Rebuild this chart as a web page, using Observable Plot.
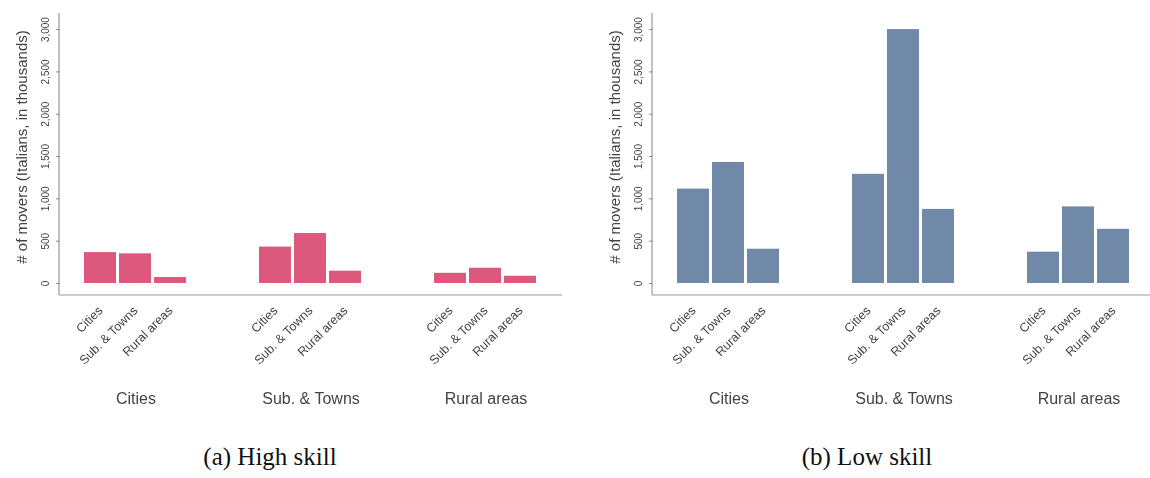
<!DOCTYPE html>
<html>
<head>
<meta charset="utf-8">
<script src="https://cdn.jsdelivr.net/npm/d3@7"></script>
<script src="https://cdn.jsdelivr.net/npm/@observablehq/plot@0.6"></script>
<style>
  html, body { margin: 0; padding: 0; background: #fff; }
  #page { position: relative; width: 1150px; height: 478px; overflow: hidden; background: #fff; }
  .panel { position: absolute; top: 0; width: 580px; height: 420px; }
  .panel svg { max-width: none !important; filter: blur(0.5px); }
  .caption {
    position: absolute; top: 444px; width: 300px; margin-left: -150px;
    text-align: center; font-family: "Liberation Serif", "DejaVu Serif", serif;
    font-size: 25px; line-height: 1; color: #111;
  }
</style>
</head>
<body>
<div id="page">
  <div id="left" class="panel" style="left:0px"></div>
  <div id="right" class="panel" style="left:593px"></div>
  <div class="caption" style="left:270px">(a) High skill</div>
  <div class="caption" style="left:867px">(b) Low skill</div>
</div>
<script>
// Area of origin (groups) and area of destination (bars within a group)
const origins = ["Cities", "Sub. & Towns", "Rural areas"];
const destinations = ["Cities", "Sub. & Towns", "Rural areas"];

// Number of movers, thousands; one row per origin, one column per destination
const highSkill = [
  [365, 350, 70],
  [430, 590, 145],
  [120, 180, 85]
];
const lowSkill = [
  [1115, 1430, 405],
  [1290, 3000, 875],
  [370, 905, 640]
];

const yTicks = [0, 500, 1000, 1500, 2000, 2500, 3000];
const yTitle = "# of movers (Italians, in thousands)";

const W = 580, H = 420;
const M = {left: 59, right: 18, top: 13, bottom: 125};

function panel(values, color) {
  const rows = origins.flatMap((o, i) =>
    destinations.map((d, j) => ({origin: o, destination: d, movers: values[i][j]}))
  );
  const svg = Plot.plot({
    width: W, height: H,
    marginLeft: M.left, marginRight: M.right, marginTop: M.top, marginBottom: M.bottom,
    style: {fontFamily: "'Liberation Sans', Arial, sans-serif", color: "#444", background: "transparent"},
    fx: {domain: origins, paddingInner: 0.139, paddingOuter: 0},
    x: {domain: destinations, paddingInner: 0.075, paddingOuter: 0.64},
    y: {domain: [-142, 3190]},
    marks: [
      Plot.barY(rows, {fx: "origin", x: "destination", y: "movers", fill: color}),
      Plot.axisY({ticks: yTicks, tickFormat: d3.format(","), tickRotate: -90,
                  tickSize: 4, tickPadding: 8, fontSize: 10, label: null, stroke: "#888"}),
      Plot.axisX({tickRotate: -45, tickSize: 0, tickPadding: 13, fontSize: 12.5, label: null}),
      Plot.axisFx({anchor: "bottom", tickSize: 0, tickPadding: 97, fontSize: 16, label: null})
    ]
  });

  // axis lines along the left and bottom edges of the plotting area
  const s = d3.select(svg);
  const yb = H - M.bottom;
  s.append("line")
    .attr("x1", M.left).attr("x2", W - M.right).attr("y1", yb).attr("y2", yb)
    .attr("stroke", "#999").attr("stroke-width", 1.2);
  s.append("line")
    .attr("x1", M.left).attr("x2", M.left).attr("y1", M.top).attr("y2", yb)
    .attr("stroke", "#999").attr("stroke-width", 1.2);

  // y-axis title
  s.append("text")
    .attr("transform", `translate(21,147) rotate(-90)`)
    .attr("text-anchor", "middle").attr("dominant-baseline", "central")
    .attr("font-size", 15).attr("fill", "#444")
    .text(yTitle);
  return svg;
}

document.getElementById("left").appendChild(panel(highSkill, "#dc587c"));
document.getElementById("right").appendChild(panel(lowSkill, "#7189a8"));
</script>
</body>
</html>
